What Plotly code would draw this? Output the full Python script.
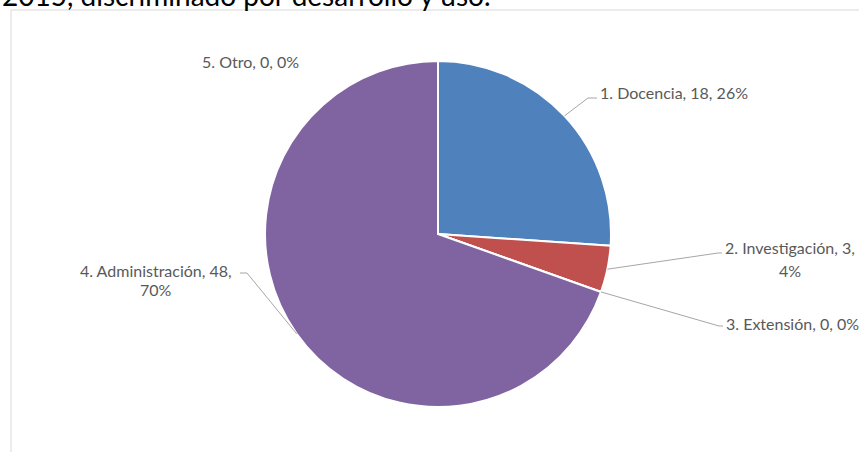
import math
import plotly.graph_objects as go

# ---- data ----
labels = ["1. Docencia", "2. Investigación", "3. Extensión", "4. Administración", "5. Otro"]
values = [18, 3, 0, 48, 0]
colors = ["#4F81BD", "#C0504D", "#9BBB59", "#8064A2", "#4BACC6"]
title_text = "2015, discriminado por desarrollo y uso."

# ---- layout constants (pixels) ----
W, H = 859, 452
CX, CY, R = 438, 234, 173
LABEL_FONT = dict(family="Lato", size=16, color="#595959")
LINE_COLOR = "#a6a6a6"


def px(x):
    return x / W


def py(y):
    return 1 - y / H


total = sum(values)
pcts = [round(v / total * 100) for v in values]

# label placement: lines of text with (x, y, xanchor), leader elbow & end (or None)
placement = [
    dict(lines=[(598, 93, "left")], split=None, elbow=(588, 98), end=(597, 98)),
    dict(lines=[(790, 248, "center"), (790, 270, "center")], split=2, elbow=(718, 253), end=(722, 253)),
    dict(lines=[(724, 323, "left")], split=None, elbow=(719, 326), end=(723, 326)),
    dict(lines=[(156, 270, "center"), (156, 289, "center")], split=2, elbow=(247, 273), end=(240, 273)),
    dict(lines=[(250, 61, "center")], split=None, elbow=None, end=None),
]

fig = go.Figure()
fig.add_trace(go.Pie(
    labels=labels,
    values=values,
    sort=False,
    direction="clockwise",
    rotation=0,
    textinfo="none",
    hoverinfo="label+value+percent",
    marker=dict(colors=colors, line=dict(color="white", width=2)),
    domain=dict(x=[px(CX - R), px(CX + R)], y=[py(CY + R), py(CY - R)]),
    showlegend=False,
))

annotations = []
shapes = []
cum = 0
for i, (lab, val, pct) in enumerate(zip(labels, values, pcts)):
    mid = (cum + val / 2) / total * 2 * math.pi
    cum += val
    full = f"{lab}, {val}, {pct}%"
    p = placement[i]
    if p["split"]:
        parts = [f"{lab}, {val},", f"{pct}%"]
    else:
        parts = [full]
    for (tx, ty, xa), part in zip(p["lines"], parts):
        annotations.append(dict(
            x=px(tx), y=py(ty), xref="paper", yref="paper",
            text=part, showarrow=False, xanchor=xa, yanchor="middle",
            font=LABEL_FONT,
        ))
    if p["elbow"] is not None:
        ex = CX + R * math.sin(mid)
        ey = CY - R * math.cos(mid)
        path = (f"M {px(ex)} {py(ey)} L {px(p['elbow'][0])} {py(p['elbow'][1])} "
                f"L {px(p['end'][0])} {py(p['end'][1])}")
        shapes.append(dict(type="path", xref="paper", yref="paper", path=path,
                           line=dict(color=LINE_COLOR, width=1)))

# title fragment at the top (cut off by the page edge)
annotations.append(dict(
    x=px(0), y=py(14), xref="paper", yref="paper", text=title_text,
    showarrow=False, xanchor="left", yanchor="bottom",
    font=dict(family="Lato", size=28, color="#000000"),
))

# chart frame
shapes.append(dict(type="line", xref="paper", yref="paper",
                   x0=px(11), y0=py(10), x1=px(W), y1=py(10),
                   line=dict(color="#d9d9d9", width=1)))
shapes.append(dict(type="line", xref="paper", yref="paper",
                   x0=px(11), y0=py(10), x1=px(11), y1=py(H),
                   line=dict(color="#d9d9d9", width=1)))

fig.update_layout(
    width=W, height=H,
    margin=dict(l=0, r=0, t=0, b=0),
    paper_bgcolor="white",
    plot_bgcolor="white",
    annotations=annotations,
    shapes=shapes,
)

fig.write_html("out.html", config={"displayModeBar": False},
               post_script="document.body.style.margin='0';")
